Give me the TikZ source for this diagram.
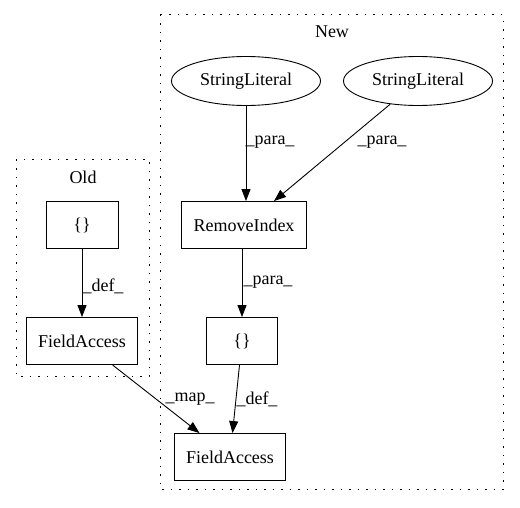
\documentclass[tikz,border=0pt]{standalone}
\usepackage{fontspec}
\setmainfont{Liberation Serif}
\usetikzlibrary{shapes.geometric,arrows.meta}
\begin{document}
\begin{tikzpicture}[x=1pt,y=-1pt,
  box/.style={draw,line width=0.9pt,rectangle,minimum height=47pt,inner sep=0pt,font=\fontsize{18}{20}\selectfont},
  ell/.style={draw,line width=0.9pt,ellipse,minimum width=149pt,minimum height=49pt,inner sep=0pt,font=\fontsize{18}{20}\selectfont},
  cluster/.style={draw,line width=1pt,dash pattern=on 1.5pt off 7pt},
  edge/.style={line width=0.9pt,-{Triangle[length=12pt,width=9pt]}},
  lbl/.style={font=\fontsize{18}{20}\selectfont,inner sep=0pt}]
\useasboundingbox (0,0) rectangle (520,508);
\draw[cluster] (16,160) rectangle (149,376);
\draw[cluster] (160,15) rectangle (503,489);
\node[lbl] (oldt) at (83,177) {Old};
\node[lbl] (newt) at (332,32) {New};
\node[box,minimum width=72pt] (ob) at (82,225) {\{\}};
\node[box,minimum width=111pt] (ofa) at (82,341) {FieldAccess};
\node[ell] (s1) at (246,81) {StringLiteral};
\node[ell] (s2) at (418,81) {StringLiteral};
\node[box,minimum width=125pt] (ri) at (244,225) {RemoveIndex};
\node[box,minimum width=71pt] (nb) at (242,341) {\{\}};
\node[box,minimum width=111pt] (nfa) at (230,457) {FieldAccess};
\draw[edge] (ob) -- (ofa);
\node[lbl] (l1) at (103,286) {\_def\_};
\draw[edge] (s1.south) -- (s1.south |- ri.north);
\node[lbl] (l2) at (270,142) {\_para\_};
\coordinate (r2) at ([xshift=30pt]ri.north);
\draw[edge] (s2) -- (r2);
\node[lbl] (l3) at (382,142) {\_para\_};
\draw[edge] (ri.south -| nb.north) -- (nb.north);
\node[lbl] (l4) at (268,282) {\_para\_};
\draw[edge] (nb) -- (nfa);
\node[lbl] (l5) at (257,399) {\_def\_};
\draw[edge] (ofa) -- (nfa);
\node[lbl] (l6) at (190,399) {\_map\_};
\end{tikzpicture}
\end{document}
